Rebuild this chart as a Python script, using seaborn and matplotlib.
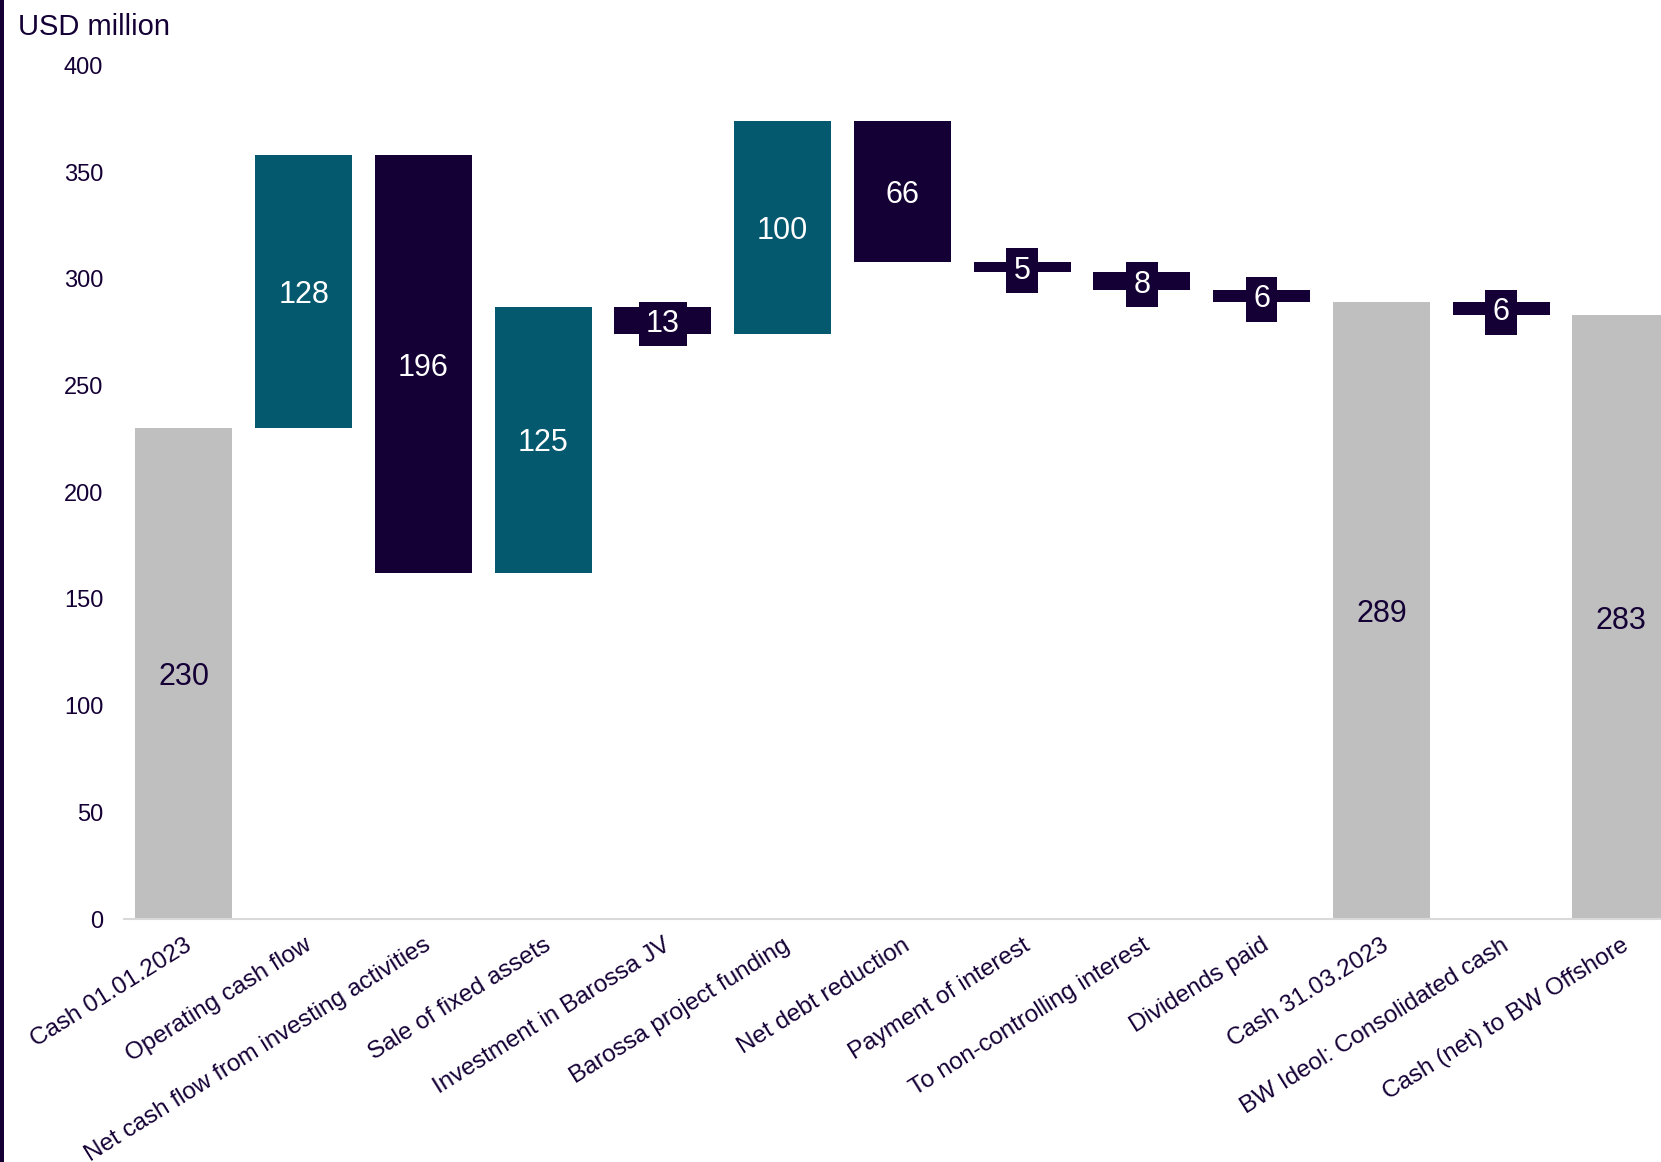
import numpy as np
import pandas as pd
import matplotlib
matplotlib.use("Agg")
import matplotlib.pyplot as plt
import seaborn as sns
from matplotlib.patches import Rectangle

# ---------------- data ----------------
categories = [
    "Cash 01.01.2023",
    "Operating cash flow",
    "Net cash flow from investing activities",
    "Sale of fixed assets",
    "Investment in Barossa JV",
    "Barossa project funding",
    "Net debt reduction",
    "Payment of interest",
    "To non-controlling interest",
    "Dividends paid",
    "Cash 31.03.2023",
    "BW Ideol: Consolidated cash",
    "Cash (net) to BW Offshore",
]
values = [230, 128, -196, 125, -13, 100, -66, -5, -8, -6, 289, -6, 283]
kinds = ["total", "inc", "dec", "inc", "dec", "inc", "dec", "dec", "dec", "dec",
         "total", "dec", "total"]
y_ticks = [0, 50, 100, 150, 200, 250, 300, 350, 400]
unit_label = "USD million"

# ---------------- styling ----------------
colors = {"total": "#BFBFBF", "inc": "#05596F", "dec": "#140034"}
text_dark = "#140035"
axis_gray = "#D9D9D9"

# waterfall geometry derived from the values
bottoms, heights = [], []
level = 0
for v, k in zip(values, kinds):
    if k == "total":
        bottoms.append(0)
        heights.append(v)
        level = v
    elif v >= 0:
        bottoms.append(level)
        heights.append(v)
        level += v
    else:
        level += v
        bottoms.append(level)
        heights.append(-v)

df = pd.DataFrame({"category": categories, "height": heights})

sns.set_theme(style="white")
plt.rcParams["font.family"] = ["Liberation Sans", "DejaVu Sans"]

W, H = 1661, 1162
fig = plt.figure(figsize=(W / 100, H / 100), dpi=100)
fig.patch.set_facecolor("white")
ax = fig.add_axes([124 / W, 243 / H, 1556.75 / W, 853.5 / H])

sns.barplot(data=df, x="category", y="height", order=categories,
            bottom=bottoms, width=0.81, errorbar=None,
            color=colors["total"], linewidth=0, ax=ax)

for patch, k in zip(ax.patches, kinds):
    patch.set_facecolor(colors[k])
    patch.set_edgecolor("none")

# value labels
for i, (v, k) in enumerate(zip(values, kinds)):
    yc = bottoms[i] + heights[i] / 2
    tc = text_dark if k == "total" else "white"
    bbox = None
    if abs(v) < 20:
        bbox = dict(boxstyle="square,pad=0.24", facecolor=colors[k],
                    edgecolor="none")
    ax.text(i, yc, str(abs(v)), ha="center", va="center_baseline",
            fontsize=22, color=tc, bbox=bbox, zorder=5)

ax.set_xlim(-0.5, len(categories) - 0.5)
ax.set_ylim(0, 400)
ax.set_yticks(y_ticks)
ax.set_yticklabels([str(t) for t in y_ticks], fontsize=17, color=text_dark)
ax.tick_params(axis="y", length=0, pad=15)

ax.set_xticks(range(len(categories)))
ax.set_xticklabels(categories, rotation=32, ha="right", va="top",
                   rotation_mode="anchor", fontsize=17.5, color=text_dark)
ax.tick_params(axis="x", which="major", length=0, pad=11)
ax.set_xticks(np.arange(-0.5, len(categories), 1.0), minor=True)
ax.tick_params(axis="x", which="minor", length=10, width=1.1,
               direction="inout", color=axis_gray)

ax.set_xlabel("")
ax.set_ylabel("")
for s in ["top", "right", "left"]:
    ax.spines[s].set_visible(False)
ax.spines["bottom"].set_color(axis_gray)
ax.spines["bottom"].set_linewidth(1.5)
ax.grid(False)

fig.text(18 / W, 1 - 35 / H, unit_label, fontsize=21, color=text_dark,
         ha="left", va="baseline")

fig.add_artist(Rectangle((0, 0), 3.5 / W, 1, transform=fig.transFigure,
                         facecolor=colors["dec"], edgecolor="none"))

fig.savefig("out.png", dpi=100, facecolor="white")
